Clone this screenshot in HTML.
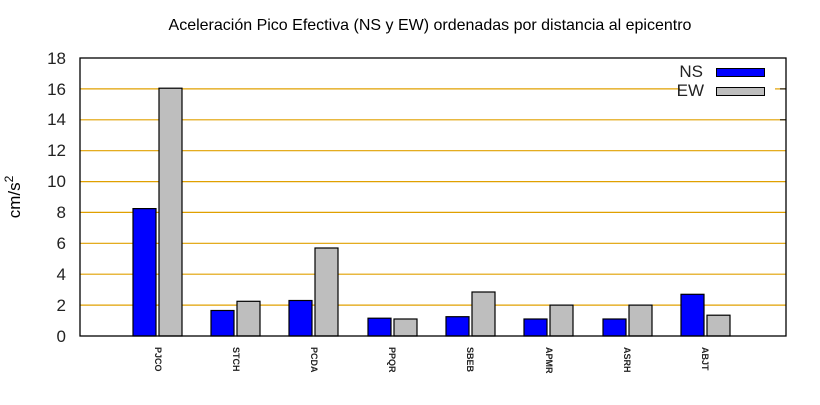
<!DOCTYPE html><html><head><style>body{margin:0;background:#fff}</style></head><body>
<svg width="820" height="400" xmlns="http://www.w3.org/2000/svg" font-family="Liberation Sans, sans-serif">
<rect width="820" height="400" fill="#fff"/>
<text x="430" y="30" font-size="16" text-anchor="middle">Aceleración Pico Efectiva (NS y EW) ordenadas por distancia al epicentro</text>
<g stroke="#e0a000" stroke-width="1.2">
<line x1="80" x2="786" y1="305.1" y2="305.1"/><line x1="80" x2="786" y1="274.2" y2="274.2"/><line x1="80" x2="786" y1="243.3" y2="243.3"/><line x1="80" x2="786" y1="212.4" y2="212.4"/><line x1="80" x2="786" y1="181.6" y2="181.6"/><line x1="80" x2="786" y1="150.7" y2="150.7"/><line x1="80" x2="786" y1="119.8" y2="119.8"/><line x1="80" x2="680" y1="88.9" y2="88.9"/><line x1="775" x2="786" y1="88.9" y2="88.9"/>
</g>
<g font-size="17" text-anchor="end" fill="#222">
<text x="66" y="342">0</text><text x="66" y="311">2</text><text x="66" y="280">4</text><text x="66" y="249">6</text><text x="66" y="218">8</text><text x="66" y="187">10</text><text x="66" y="156">12</text><text x="66" y="125">14</text><text x="66" y="95">16</text><text x="66" y="64">18</text>
</g>
<text transform="translate(20,197) rotate(-90)" font-size="17" text-anchor="middle">cm/s<tspan dy="-7" font-size="12">2</tspan></text>
<g stroke="#000" stroke-width="1.2">
<rect x="133" y="208.6" width="23" height="127.4" fill="#0000ff"/><rect x="159" y="88.2" width="23" height="247.8" fill="#bebebe"/>
<rect x="211" y="310.5" width="23" height="25.5" fill="#0000ff"/><rect x="237" y="301.3" width="23" height="34.7" fill="#bebebe"/>
<rect x="289" y="300.5" width="23" height="35.5" fill="#0000ff"/><rect x="315" y="248" width="23" height="88" fill="#bebebe"/>
<rect x="368" y="318.2" width="23" height="17.8" fill="#0000ff"/><rect x="394" y="319" width="23" height="17" fill="#bebebe"/>
<rect x="446" y="316.7" width="23" height="19.3" fill="#0000ff"/><rect x="472" y="292" width="23" height="44" fill="#bebebe"/>
<rect x="524" y="319" width="23" height="17" fill="#0000ff"/><rect x="550" y="305.1" width="23" height="30.9" fill="#bebebe"/>
<rect x="603" y="319" width="23" height="17" fill="#0000ff"/><rect x="629" y="305.1" width="23" height="30.9" fill="#bebebe"/>
<rect x="681" y="294.3" width="23" height="41.7" fill="#0000ff"/><rect x="707" y="315.2" width="23" height="20.8" fill="#bebebe"/>
</g>
<rect x="80" y="58" width="706" height="278" fill="none" stroke="#000" stroke-width="1.3"/>
<g stroke="#000"><line x1="780" x2="786" y1="88.9" y2="88.9"/><line x1="780" x2="786" y1="119.8" y2="119.8"/></g>
<g font-size="9" font-weight="bold" fill="#222">
<text transform="translate(155,347) rotate(90)">PJCO</text>
<text transform="translate(233,347) rotate(90)">STCH</text>
<text transform="translate(311,347) rotate(90)">PCDA</text>
<text transform="translate(389,347) rotate(90)">PPQR</text>
<text transform="translate(467,347) rotate(90)">SBEB</text>
<text transform="translate(546,347) rotate(90)">APMR</text>
<text transform="translate(624,347) rotate(90)">ASRH</text>
<text transform="translate(702,347) rotate(90)">ABJT</text>
</g>
<g font-size="17" text-anchor="end" fill="#222"><text x="703" y="77">NS</text><text x="704" y="96">EW</text></g>
<rect x="716.5" y="68.5" width="48" height="8" fill="#0000ff" stroke="#000"/>
<rect x="716.5" y="87.5" width="48" height="8" fill="#bebebe" stroke="#000"/>
</svg></body></html>
